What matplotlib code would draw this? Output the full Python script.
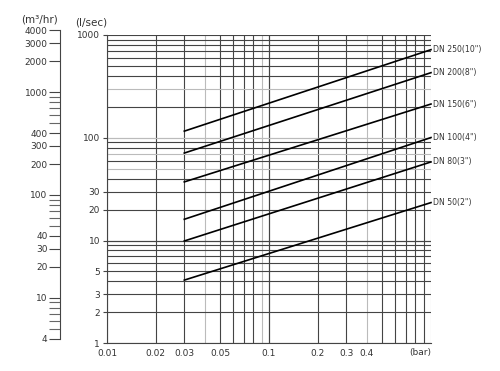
import matplotlib.pyplot as plt
from matplotlib.ticker import FixedLocator, NullLocator, NullFormatter
from matplotlib.transforms import blended_transform_factory

# pressure drop (bar) and flow (l/sec) at both ends of each line
sizes = ['DN 250(10")', 'DN 200(8")', 'DN 150(6")', 'DN 100(4")', 'DN 80(3")', 'DN 50(2")']
dp = [0.03, 1.0]
flow_start = [116, 71, 37.2, 16.1, 9.9, 4.12]
flow_end = [720, 430, 213, 100.5, 58.2, 23.4]

x_ticks = [0.01, 0.02, 0.03, 0.05, 0.1, 0.2, 0.3, 0.4]
x_labels = ['0.01', '0.02', '0.03', '0.05', '0.1', '0.2', '0.3', '0.4']
y_ticks = [1, 2, 3, 5, 10, 20, 30, 100, 1000]
m3_ticks = [4, 10, 20, 30, 40, 100, 200, 300, 400, 1000, 2000, 3000, 4000]
m3_minor = [5, 6, 7, 8, 9, 50, 60, 70, 80, 90, 500, 600, 700, 800, 900]

plt.rcParams['font.family'] = 'DejaVu Sans'
txt = '#333333'
fs = 6.5

fig = plt.figure(figsize=(5, 3.71), dpi=100)
W, H = 500, 371
left, right, top, bottom = 107, 431, 35, 343.3
decade = (bottom - top) / 3
ax = fig.add_axes([left / W, (H - bottom) / H, (right - left) / W, (bottom - top) / H])
ax.set_xscale('log')
ax.set_yscale('log')
ax.set_xlim(0.01, 1)
ax.set_ylim(1, 1000)

# grid
light_v = [0.04, 0.09, 0.4, 1.0]
light_h = [50, 70, 100, 300]
for dec in [0.01, 0.1]:
    for k in range(1, 11):
        v = round(dec * k, 3)
        c = '#bbbbbb' if v in light_v else '#444444'
        ax.axvline(v, color=c, lw=0.8, zorder=1)
for dec in [1, 10, 100]:
    for k in range(1, 11):
        v = dec * k
        c = '#bbbbbb' if v in light_h else '#444444'
        ax.axhline(v, color=c, lw=0.8, zorder=1)

for name, a, b in zip(sizes, flow_start, flow_end):
    ax.plot(dp, [a, b], color='black', lw=1.2, zorder=3, clip_on=False)
    ax.text(1.0 * 1.025, b, name, fontsize=5.6, color=txt, va='center', ha='left')

for s in ['top', 'right']:
    ax.spines[s].set_visible(False)
ax.spines['left'].set_color('#444444')
ax.spines['bottom'].set_color('#444444')
ax.spines['left'].set_linewidth(0.8)
ax.spines['bottom'].set_linewidth(0.8)

ax.xaxis.set_major_locator(FixedLocator(x_ticks))
ax.set_xticklabels(x_labels)
ax.xaxis.set_minor_locator(NullLocator())
ax.xaxis.set_minor_formatter(NullFormatter())
ax.tick_params(axis='x', length=0, pad=4, labelsize=fs, labelcolor=txt)
ax.yaxis.set_major_locator(FixedLocator(y_ticks))
ax.set_yticklabels([str(v) for v in y_ticks])
ax.yaxis.set_minor_locator(NullLocator())
ax.yaxis.set_minor_formatter(NullFormatter())
ax.tick_params(axis='y', length=3, width=0.8, color='#444444', pad=2, labelsize=fs, labelcolor=txt)
trans = blended_transform_factory(ax.transData, ax.transAxes)
ax.text(1.0, -9 / (bottom - top), '(bar)', fontsize=fs, color=txt, ha='right', va='center',
        transform=trans)

# second scale in m3/hr (1 l/sec = 3.6 m3/hr)
top2 = 27
ax2 = fig.add_axes([60 / W, (H - bottom) / H, 0.001, (bottom - top2) / H])
ax2.set_yscale('log')
ax2.set_ylim(3.6, 3.6 * 10 ** ((bottom - top2) / decade))
ax2.patch.set_visible(False)
for s in ['top', 'right', 'bottom']:
    ax2.spines[s].set_visible(False)
ax2.spines['left'].set_bounds(4, 4000)
ax2.spines['left'].set_color('#444444')
ax2.spines['left'].set_linewidth(0.8)
ax2.set_xticks([])
ax2.yaxis.set_major_locator(FixedLocator(m3_ticks))
ax2.set_yticklabels([str(v) for v in m3_ticks])
ax2.yaxis.set_minor_locator(FixedLocator(m3_minor))
ax2.yaxis.set_minor_formatter(NullFormatter())
ax2.tick_params(axis='y', which='both', length=8, width=0.8, color='#444444', pad=1,
                labelsize=fs, labelcolor=txt)
ax2.tick_params(axis='y', which='minor', color='#666666')

fig.text(40 / W, (H - 19) / H, '(m³/hr)', fontsize=7.5, color=txt, ha='center', va='center')
fig.text(91 / W, (H - 22.5) / H, '(l/sec)', fontsize=7.5, color=txt, ha='center', va='center')

fig.savefig('out.png', dpi=100)
